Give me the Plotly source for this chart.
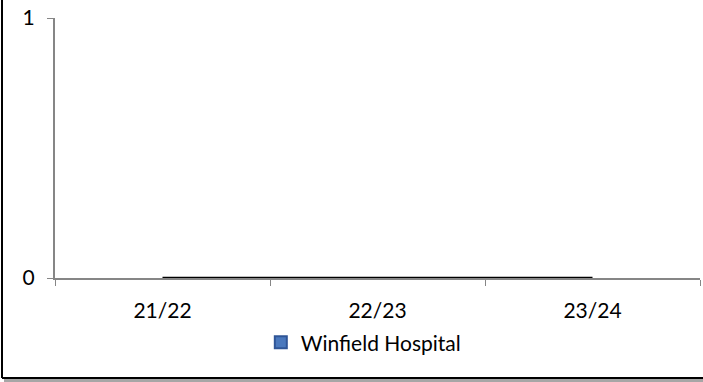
import plotly.graph_objects as go

# Financial years and values for the hospital series
years = ["21/22", "22/23", "23/24"]
winfield_values = [0, 0, 0]
series_name = "Winfield Hospital"

y_ticks = [0, 1]

axis_grey = "#868686"
font_family = "Lato, 'Open Sans', sans-serif"

fig = go.Figure()

# The series itself, drawn as a line along the category centres
fig.add_trace(go.Scatter(
    x=years,
    y=winfield_values,
    mode="lines",
    line=dict(color="#000000", width=2.5),
    showlegend=False,
    cliponaxis=False,
    hoverinfo="x+y",
))

# Legend key: blue square
fig.add_trace(go.Scatter(
    x=[None],
    y=[None],
    mode="markers",
    name=series_name,
    marker=dict(symbol="square", size=12, color="#4a78bd",
                line=dict(color="#2f5597", width=1)),
))

fig.update_layout(
    width=703,
    height=382,
    margin=dict(l=55, r=3, t=18, b=104),
    paper_bgcolor="white",
    plot_bgcolor="white",
    font=dict(family=font_family, size=21, color="#000000"),
    showlegend=True,
    legend=dict(
        orientation="h",
        x=0.478, xanchor="center",
        y=-0.17, yanchor="top",
        font=dict(size=21),
        itemsizing="constant",
        itemwidth=30,
        tracegroupgap=0,
    ),
    xaxis=dict(
        type="category",
        categoryorder="array",
        categoryarray=years,
        range=[-0.5, 2.5],
        tickson="boundaries",
        ticks="outside",
        ticklen=6,
        tickcolor=axis_grey,
        showline=True,
        linecolor=axis_grey,
        linewidth=2,
        showgrid=False,
        zeroline=False,
        layer="below traces",
        ticklabelstandoff=13,
        tickfont=dict(size=21),
        fixedrange=True,
    ),
    yaxis=dict(
        range=[0, 1],
        tickvals=y_ticks,
        ticktext=[str(v) for v in y_ticks],
        ticks="outside",
        ticklen=6,
        tickcolor=axis_grey,
        showline=True,
        linecolor=axis_grey,
        linewidth=2,
        showgrid=True,
        gridcolor="#d9d9d9",
        gridwidth=2,
        zeroline=False,
        layer="below traces",
        ticklabelstandoff=8,
        tickfont=dict(size=21),
        fixedrange=True,
    ),
    shapes=[
        # chart frame: left edge and bottom edge with a soft shadow
        dict(type="line", xref="paper", yref="paper",
             x0=-53 / 645, x1=-53 / 645, y0=-100 / 260, y1=1 + 18 / 260,
             line=dict(color="#000000", width=2)),
        dict(type="line", xref="paper", yref="paper",
             x0=-53 / 645, x1=1 + 3 / 645, y0=-100 / 260, y1=-100 / 260,
             line=dict(color="#000000", width=2)),
        dict(type="line", xref="paper", yref="paper",
             x0=-51 / 645, x1=1 + 3 / 645, y0=-102.5 / 260, y1=-102.5 / 260,
             line=dict(color="#a6a6a6", width=3)),
    ],
)

fig.write_html("out.html")
